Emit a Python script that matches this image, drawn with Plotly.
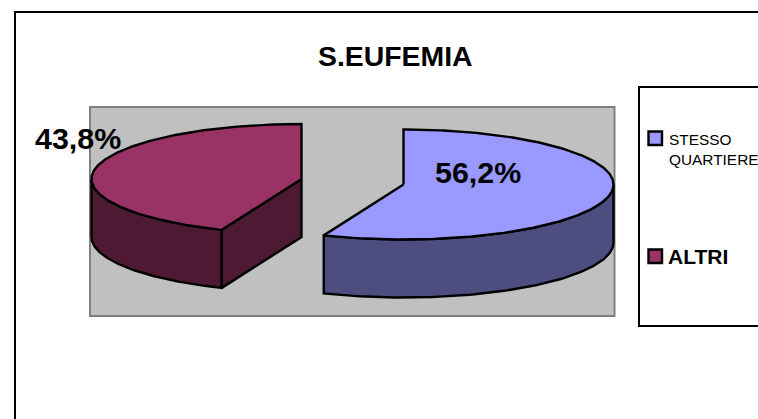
import numpy as np
import plotly.graph_objects as go

TITLE = "S.EUFEMIA"
CATEGORIES = ["STESSO<br>QUARTIERE", "ALTRI"]
SHARES = [56.2, 43.8]
LABELS = ["56,2%", "43,8%"]
TOP_COLORS = ["#9999FF", "#993366"]
SIDE_COLORS = ["#4D4D80", "#4D1933"]

W, H = 758, 419
RX, RY, DEPTH = 210, 55, 58
CENTERS = [(403.5, 184.5), (301.5, 179)]


def ell(c, t):
    t = np.asarray(t, dtype=float)
    return c[0] + RX * np.sin(t), c[1] - RY * np.cos(t)


def poly(fig, xs, ys, color):
    fig.add_trace(go.Scatter(x=xs, y=ys, mode="lines", fill="toself", fillcolor=color,
                             line=dict(color="black", width=2.4), hoverinfo="skip",
                             showlegend=False))


fig = go.Figure()
fracs = np.array(SHARES) / sum(SHARES)
edges = np.concatenate([[0], np.cumsum(fracs)]) * 2 * np.pi

for i, c in enumerate(CENTERS):
    a0, a1 = edges[i], edges[i + 1]
    # curved outer wall: only the part of the rim that faces the viewer
    lo, hi = max(a0, np.pi / 2), min(a1, 3 * np.pi / 2)
    t = np.linspace(lo, hi, 120)
    ax, ay = ell(c, t)
    poly(fig, list(ax) + list(ax[::-1]) + [ax[0]],
         list(ay) + list((ay + DEPTH)[::-1]) + [ay[0]], SIDE_COLORS[i])
    # inner cut wall, visible only when the slice ends after the bottom on the left
    if a0 > np.pi / 2:
        ex, ey = ell(c, a0)
        poly(fig, [ex, c[0], c[0], ex, ex],
             [ey, c[1], c[1] + DEPTH, ey + DEPTH, ey], SIDE_COLORS[i])
    # top face
    t = np.linspace(a0, a1, 240)
    tx, ty = ell(c, t)
    poly(fig, [c[0]] + list(tx) + [c[0]], [c[1]] + list(ty) + [c[1]], TOP_COLORS[i])

shapes = [
    dict(type="rect", x0=15, y0=12, x1=900, y1=600, line=dict(color="black", width=2),
         fillcolor="white", layer="below"),
    dict(type="rect", x0=90, y0=107, x1=614.5, y1=316, line=dict(color="#808080", width=2),
         fillcolor="#C0C0C0", layer="below"),
    dict(type="rect", x0=639, y0=87, x1=900, y1=326, line=dict(color="black", width=2),
         fillcolor="white", layer="below"),
    dict(type="rect", x0=648.5, y0=131.5, x1=662, y1=145, line=dict(color="black", width=2.4),
         fillcolor=TOP_COLORS[0], layer="above"),
    dict(type="rect", x0=648.5, y0=249.5, x1=662, y1=263, line=dict(color="black", width=2.4),
         fillcolor=TOP_COLORS[1], layer="above"),
]

FONT = "Liberation Sans, Arial, sans-serif"


def note(text, x, y, size, bold=True, anchor="center", align="center"):
    return dict(text=f"<b>{text}</b>" if bold else text, x=x, y=y, xref="x", yref="y",
                showarrow=False, xanchor=anchor, yanchor="middle", align=align,
                font=dict(family=FONT, size=size, color="black"))


annotations = [
    note(TITLE, 395, 56, 28.4),
    note(LABELS[0], 477.5, 172, 30.4),
    note(LABELS[1], 77.5, 138, 30.4),
    note(CATEGORIES[0], 666.5, 149.5, 15.4, bold=False, anchor="left", align="left"),
    note(CATEGORIES[1], 666, 256.5, 21, anchor="left"),
]

fig.update_layout(
    width=W, height=H, margin=dict(l=0, r=0, t=0, b=0), autosize=False,
    paper_bgcolor="white", plot_bgcolor="white", showlegend=False,
    xaxis=dict(range=[0, W], visible=False, fixedrange=True),
    yaxis=dict(range=[H, 0], visible=False, fixedrange=True),
    shapes=shapes, annotations=annotations,
)
fig.write_html("out.html", config={"displayModeBar": False},
               post_script="document.body.style.margin='0';document.body.style.overflow='hidden';")
